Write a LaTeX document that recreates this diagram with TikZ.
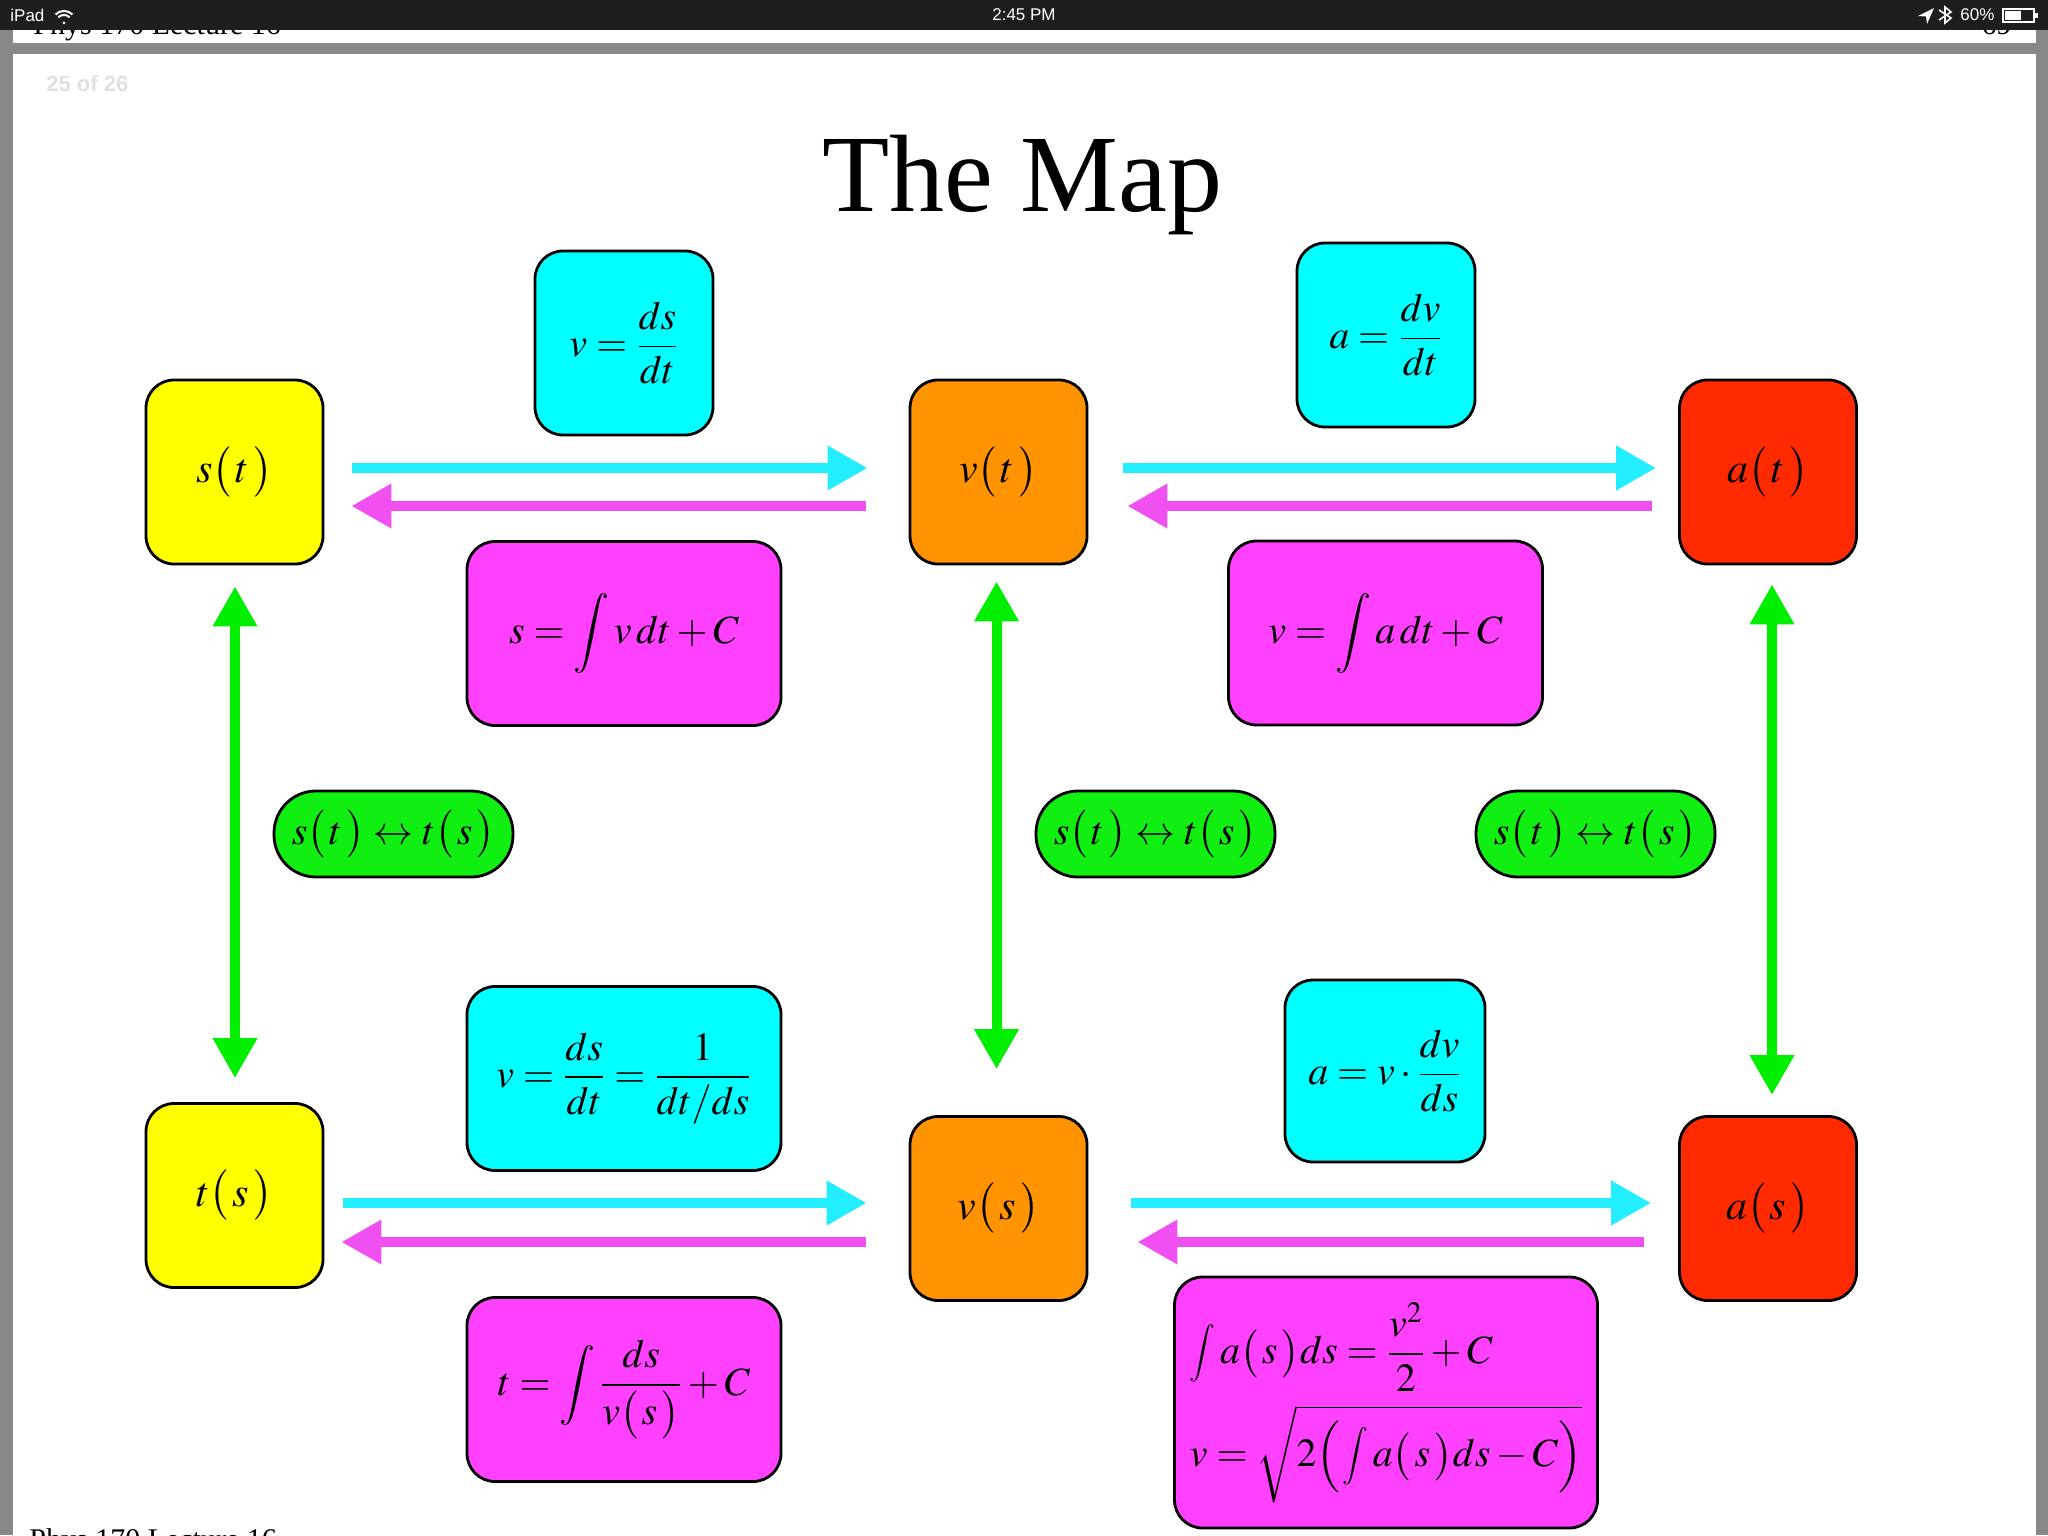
\documentclass[tikz,border=0pt]{standalone}
\usepackage{amsmath}
\usepackage{graphicx}
\usepackage{mathptmx}
\usepackage[no-math]{fontspec}
\setmainfont{Liberation Serif}
\setsansfont{Liberation Sans}
\usetikzlibrary{arrows.meta,calc}
\definecolor{yel}{HTML}{FFFF00}
\definecolor{ora}{HTML}{FF9300}
\definecolor{redb}{HTML}{FF2A00}
\definecolor{cyb}{HTML}{00FFFF}
\definecolor{mgb}{HTML}{FF40FF}
\definecolor{grb}{HTML}{11EE11}
\definecolor{cya}{HTML}{22EEFF}
\definecolor{mga}{HTML}{F050F0}
\definecolor{gra}{HTML}{00EE00}
\definecolor{sbar}{HTML}{1E1E20}
\definecolor{framegray}{HTML}{888888}
\tikzset{
  box/.style={draw=black, line width=1.4pt, rounded corners=14pt, inner sep=0pt,
    font=\fontsize{20}{24}\selectfont},
  qbox/.style={box, minimum width=88.5pt, minimum height=92pt, font=\fontsize{21}{25}\selectfont},
  wbox/.style={box, minimum width=157pt, minimum height=92pt},
  pill/.style={box, fill=grb, rounded corners=21pt, minimum width=119.5pt, minimum height=43pt},
  conn/.style={line width=5pt},
  fwdarrow/.style={conn, draw=cya, -{Triangle[length=20pt,width=21pt]}},
  backarrow/.style={conn, draw=mga, -{Triangle[length=20pt,width=21pt]}},
  bothways/.style={conn, draw=gra, {Triangle[length=20pt,width=21pt]}-{Triangle[length=20pt,width=21pt]}},
  statustext/.style={text=white, font=\sffamily\fontsize{8.5}{10}\selectfont, inner sep=0pt},
  pagetext/.style={font=\fontsize{15}{18}\selectfont, inner sep=0pt}
}
\newcommand{\pp}[1]{\bigl(\mkern1.5mu#1\mkern2mu\bigr)}
\newcommand{\midint}{\mathop{\vcenter{\hbox{\scalebox{0.72}{$\displaystyle\int$}}}}\nolimits}
\begin{document}
\begin{tikzpicture}[x=0.5pt,y=-0.5pt]
\useasboundingbox (0,0) rectangle (2048,1535);
\clip (0,0) rectangle (2048,1535);
% page frame
\fill[white] (0,0) rectangle (2048,1535);
\fill[framegray] (0,30) rectangle (13,1535);
\fill[framegray] (2036,30) rectangle (2048,1535);
\fill[framegray] (0,43) rectangle (2048,54);
% partial running heads
\node[pagetext, anchor=base west] (headL) at (33,35) {Phys 170 Lecture 16};
\node[pagetext, anchor=base east] (headR) at (2012,35) {69};
\node[pagetext, anchor=base west] (footL) at (29,1549) {Phys 170 Lecture 16};
% status bar
\fill[sbar] (0,0) rectangle (2048,30);
\node[statustext, anchor=west] (ipad) at (10,15) {iPad};
\begin{scope}[white, line width=1pt]
  \fill (64,23) circle[radius=1.5];
  \draw (58.3,17.3) arc[start angle=225, end angle=315, radius=8];
  \draw (55.5,14.5) arc[start angle=225, end angle=315, radius=12];
\end{scope}
\node[statustext] (clock) at (1024,15) {2:45 PM};
\fill[white] (1934,8) -- (1918,16) -- (1926,16.5) -- (1927,24) -- cycle;
\draw[white, line width=0.8pt] (1939,10) -- (1951,18) -- (1945,23) -- (1945,7) -- (1951,12) -- (1939,20);
\node[statustext, anchor=west] (batt) at (1960,15) {60\%};
\draw[white, line width=0.6pt] (2003,9) rectangle (2034,22);
\fill[white] (2005,11) rectangle (2021,20);
\fill[white] (2035,13) rectangle (2038,18);
% page label and title
\node[anchor=west, text=black!12, font=\sffamily\bfseries\fontsize{11}{13}\selectfont, inner sep=0pt] (pagenum) at (46,84) {25 of 26};
\node[anchor=base, font=\fontsize{55}{60}\selectfont, inner sep=0pt] (title) at (1022.5,212) {The Map};
% main function boxes
\node[qbox, fill=yel] (st) at (234.5,472) {$s\pp{t}$};
\node[qbox, fill=ora] (vt) at (998.5,472) {$v\pp{t}$};
\node[qbox, fill=redb] (at) at (1768,472) {$a\pp{t}$};
\node[qbox, fill=yel] (ts) at (234.5,1195.5) {$t\pp{s}$};
\node[qbox, fill=ora] (vs) at (998.5,1208.5) {$v\pp{s}$};
\node[qbox, fill=redb] (as) at (1768,1208.5) {$a\pp{s}$};
% relation boxes
\node[box, fill=cyb, minimum width=89pt, minimum height=92pt] (c1) at (624,343) {$v=\dfrac{ds}{dt}$};
\node[box, fill=cyb, minimum width=89pt, minimum height=92pt] (c2) at (1386,335) {$a=\dfrac{dv}{dt}$};
\node[wbox, fill=mgb] (m1) at (624,633.5) {$s=\displaystyle\int v\,dt+C$};
\node[wbox, fill=mgb] (m2) at (1385.5,633) {$v=\displaystyle\int a\,dt+C$};
\node[wbox, fill=cyb] (c3) at (624,1078.5) {$v=\dfrac{ds}{dt}=\dfrac{1}{dt/ds}$};
\node[box, fill=cyb, minimum width=100pt, minimum height=91pt] (c4) at (1385,1071) {$a=v\cdot\dfrac{dv}{ds}$};
\node[wbox, fill=mgb] (m3) at (624,1389.5) {$t=\displaystyle\int\frac{ds}{v\pp{s}}+C$};
\node[box, fill=mgb, minimum width=211.5pt, minimum height=125.5pt, align=left] (m4) at (1386,1402.5)
  {$\displaystyle\midint a\pp{s}ds=\frac{v^{2}}{2}+C$\\[6pt]
   $v=\sqrt{2\Bigl(\mkern1mu\midint a\pp{s}ds-C\Bigr)}$};
% inverse-function pills
\node[pill] (g1) at (393.5,834) {$s\pp{t}\leftrightarrow t\pp{s}$};
\node[pill] (g2) at (1155.5,834) {$s\pp{t}\leftrightarrow t\pp{s}$};
\node[pill] (g3) at (1595.5,834) {$s\pp{t}\leftrightarrow t\pp{s}$};
% horizontal connectors
\draw[fwdarrow] ($(st.east)+(28,-4)$) -- ($(vt.west)+(-41,-4)$);
\draw[backarrow] ($(vt.west)+(-43,34)$) -- ($(st.east)+(27,34)$);
\draw[fwdarrow] ($(vt.east)+(35,-4)$) -- ($(at.west)+(-22,-4)$);
\draw[backarrow] ($(at.west)+(-26,34)$) -- ($(vt.east)+(39,34)$);
\draw[fwdarrow] ($(ts.east)+(19,7.5)$) -- ($(vs.west)+(-42,-5.5)$);
\draw[backarrow] ($(vs.west)+(-43,33.5)$) -- ($(ts.east)+(17,46.5)$);
\draw[fwdarrow] ($(vs.east)+(43,-5.5)$) -- ($(as.west)+(-27,-5.5)$);
\draw[backarrow] ($(as.west)+(-34,33.5)$) -- ($(vs.east)+(49,33.5)$);
% vertical connectors
\draw[bothways] ($(st.south)+(0.5,21)$) -- ($(ts.north)+(0.5,-24)$);
\draw[bothways] ($(vt.south)+(-2,16)$) -- ($(vs.north)+(-2,-46)$);
\draw[bothways] ($(at.south)+(4,19)$) -- ($(as.north)+(4,-20)$);
\end{tikzpicture}
\end{document}
